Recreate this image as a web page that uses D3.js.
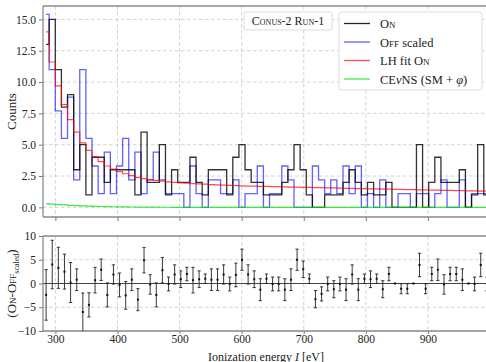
<!DOCTYPE html>
<html lang="en">
  <head>
    <meta charset="utf-8">
    <title>CONUS-2 Run-1 spectrum</title>
    <script src="https://d3js.org/d3.v7.js"></script>
    <style>
      body { margin: 0; background: #fff; }
      text { font-family: "Liberation Serif", "DejaVu Serif", serif; fill: #222; }
    </style>
  </head>

  <body>
    <script>
      // bins: first centre and width [eV]
      const binStart = 285;
      const binWidth = 9.86;
      // On counts per bin
      const onCounts = [13, 15, 11, 8, 9, 3, 5, 1, 4, 4, 2, 3, 3, 3, 3, 1, 6, 2, 2, 5,
        1, 3, 2, 2, 4, 2, 1, 3, 3, 3, 1, 4, 5,
        3, 2, 2, 1, 1, 1, 2, 3, 5, 3, 1, 0, 0, 1, 1, 1, 2, 3, 2, 1, 2, 1, 1, 2,
        0, 0, 0, 0, 5, 0, 2, 4, 2, 2, 2, 3, 0, 1, 5, 1];
      // Off counts (before scaling)
      const offCounts = [14, 10, 7, 5, 8, 2, 10, 5, 3, 1, 4, 1, 3, 5, 2, 4, 1, 2, 4, 2,
        1, 1, 1, 0, 3, 1, 0, 2, 2, 1, 1, 2, 0,
        1, 1, 3, 0, 1, 1, 3, 2, 0, 0, 0, 3, 2, 1, 2, 1, 3, 1, 3, 0, 1, 0, 2, 0,
        0, 1, 1, 0, 1, 1, 0, 1, 2, 0, 0, 2, 0, 1, 1, 1];
      const offScale = 1.1;
      // likelihood fit of On, per bin
      const fitOn = [14.0, 11.6, 9.7, 8.2, 7.0, 6.0, 5.15, 4.55, 4.05, 3.65, 3.3, 3.05,
        2.85, 2.68, 2.53, 2.4, 2.3, 2.22, 2.15, 2.09, 2.04, 2.0, 1.96, 1.93, 1.9,
        1.87, 1.85, 1.82, 1.8, 1.78, 1.76, 1.73, 1.71,
        1.70, 1.69, 1.68, 1.67, 1.66, 1.65, 1.64, 1.62, 1.61, 1.60, 1.59, 1.58,
        1.57, 1.56, 1.55, 1.54, 1.52, 1.51, 1.50, 1.49, 1.48, 1.47, 1.46, 1.45,
        1.44, 1.43, 1.42, 1.41, 1.40, 1.39, 1.38, 1.37, 1.36, 1.35, 1.34, 1.33,
        1.32, 1.31, 1.30, 1.29];
      // CEvNS expectation (SM + phi), per bin
      const cevns = [0.30, 0.26, 0.22, 0.19, 0.16, 0.14, 0.12, 0.10, 0.085, 0.07, 0.06,
        0.05, 0.04, 0.035, 0.03, 0.025, 0.02, 0.015, 0.012, 0.01, 0.008, 0.006, 0.005,
        0.004, 0.003, 0.002, 0.001, 0, 0, 0, 0, 0, 0, 0, 0, 0, 0, 0, 0, 0, 0, 0, 0, 0,
        0, 0, 0, 0, 0, 0, 0, 0, 0, 0, 0, 0, 0, 0, 0, 0, 0, 0, 0, 0, 0, 0, 0, 0, 0, 0, 0, 0, 0];
      const xTicks = [300, 400, 500, 600, 700, 800, 900];
      const countTicks = [0, 2.5, 5, 7.5, 10, 12.5, 15];
      const residTicks = [-10, -5, 0, 5, 10];

      const centers = onCounts.map((d, i) => binStart + i * binWidth);

      const w = 486;
      const h = 362;
      const left = 43;
      const right = 490;
      const top1 = 6, bottom1 = 217;
      const top2 = 236, bottom2 = 331;

      const offScaled = offCounts.map(d => d * offScale);
      const resid = centers.map((c, i) => ({
        x: c,
        y: onCounts[i] - offScaled[i],
        e: Math.sqrt(onCounts[i] + offScaled[i])
      }));

      const svg = d3.select("body")
        .append("svg")
        .attr("width", w)
        .attr("height", h);

      const x = d3.scaleLinear().domain([280, 1000]).range([left, right]);
      const y1 = d3.scaleLinear().domain([-0.77, 16.07]).range([bottom1, top1]);
      const y2 = d3.scaleLinear().domain([-10, 10]).range([bottom2, top2]);

      svg.append("clipPath").attr("id", "clip1")
        .append("rect").attr("x", left).attr("y", top1)
        .attr("width", right - left).attr("height", bottom1 - top1);
      svg.append("clipPath").attr("id", "clip2")
        .append("rect").attr("x", left).attr("y", top2)
        .attr("width", right - left).attr("height", bottom2 - top2);

      // grids
      function grid(yScale, yTicks, y0, y1px) {
        const g = svg.append("g").attr("stroke", "#c8c8c8")
          .attr("stroke-width", 0.8).attr("stroke-dasharray", "3.5,2.5");
        g.selectAll(".gx").data(xTicks).enter().append("line")
          .attr("x1", d => x(d)).attr("x2", d => x(d))
          .attr("y1", y0).attr("y2", y1px);
        g.selectAll(".gy").data(yTicks).enter().append("line")
          .attr("x1", left).attr("x2", right)
          .attr("y1", d => yScale(d)).attr("y2", d => yScale(d));
      }
      grid(y1, countTicks, top1, bottom1);
      grid(y2, residTicks, top2, bottom2);

      // top panel: step histograms (step at mid-point between centres)
      const step = d3.line().curve(d3.curveStep);
      const plot = svg.append("g").attr("clip-path", "url(#clip1)").attr("fill", "none");

      plot.append("path")
        .attr("d", step(centers.map((c, i) => [x(c), y1(offScaled[i])])))
        .attr("stroke", "rgba(0,0,255,0.62)").attr("stroke-width", 1.3);
      plot.append("path")
        .attr("d", step(centers.map((c, i) => [x(c), y1(onCounts[i])])))
        .attr("stroke", "rgba(0,0,0,0.8)").attr("stroke-width", 1.3);
      plot.append("path")
        .attr("d", step(centers.map((c, i) => [x(c), y1(fitOn[i])])))
        .attr("stroke", "rgba(255,0,0,0.7)").attr("stroke-width", 1.2);
      plot.append("path")
        .attr("d", step(centers.map((c, i) => [x(c), y1(cevns[i])])))
        .attr("stroke", "rgba(0,230,0,0.75)").attr("stroke-width", 1.2);

      // bottom panel: residuals
      const rp = svg.append("g").attr("clip-path", "url(#clip2)");
      rp.append("line")
        .attr("x1", left).attr("x2", right)
        .attr("y1", y2(0)).attr("y2", y2(0))
        .attr("stroke", "#444").attr("stroke-width", 1);
      const eb = rp.selectAll(".eb").data(resid).enter().append("g")
        .attr("stroke", "#222").attr("stroke-width", 0.9);
      eb.append("line")
        .attr("x1", d => x(d.x)).attr("x2", d => x(d.x))
        .attr("y1", d => y2(d.y - d.e)).attr("y2", d => y2(d.y + d.e));
      eb.append("line")
        .attr("x1", d => x(d.x) - 1.6).attr("x2", d => x(d.x) + 1.6)
        .attr("y1", d => y2(d.y - d.e)).attr("y2", d => y2(d.y - d.e));
      eb.append("line")
        .attr("x1", d => x(d.x) - 1.6).attr("x2", d => x(d.x) + 1.6)
        .attr("y1", d => y2(d.y + d.e)).attr("y2", d => y2(d.y + d.e));
      rp.selectAll(".pt").data(resid).enter().append("rect")
        .attr("x", d => x(d.x) - 1).attr("y", d => y2(d.y) - 1)
        .attr("width", 2).attr("height", 2).attr("fill", "#111");

      // axes
      const fmt1 = d3.format(".1f");
      const fmtR = d => d < 0 ? "\u2212" + Math.abs(d) : String(d);

      function styleAxis(g) {
        g.selectAll(".domain").remove();
        g.selectAll(".tick line").attr("stroke", "#777");
        g.selectAll(".tick text")
          .attr("font-family", "Liberation Serif, DejaVu Serif, serif")
          .attr("font-size", 11.5).attr("fill", "#333");
      }

      svg.append("g")
        .attr("transform", `translate(${left}, 0)`)
        .call(d3.axisLeft(y1).tickValues(countTicks).tickFormat(fmt1).tickSize(4).tickPadding(3))
        .call(styleAxis);
      svg.append("g")
        .attr("transform", `translate(${left}, 0)`)
        .call(d3.axisLeft(y2).tickValues(residTicks).tickFormat(fmtR).tickSize(4).tickPadding(3))
        .call(styleAxis);
      svg.append("g")
        .attr("transform", `translate(0, ${bottom1})`)
        .call(d3.axisBottom(x).tickValues(xTicks).tickFormat("").tickSize(4))
        .call(styleAxis);
      svg.append("g")
        .attr("transform", `translate(0, ${bottom2})`)
        .call(d3.axisBottom(x).tickValues(xTicks).tickFormat(d3.format("d")).tickSize(3).tickPadding(1))
        .call(styleAxis);

      // spines
      const spine = svg.append("g").attr("stroke", "#8a8a8a").attr("stroke-width", 1.3);
      [[top1, bottom1], [top2, bottom2]].forEach(([t, b]) => {
        spine.append("line").attr("x1", left).attr("x2", w).attr("y1", t).attr("y2", t);
        spine.append("line").attr("x1", left).attr("x2", w).attr("y1", b).attr("y2", b);
        spine.append("line").attr("x1", left).attr("x2", left).attr("y1", t).attr("y2", b);
      });

      // axis labels
      svg.append("text")
        .attr("transform", `translate(16, ${(top1 + bottom1) / 2}) rotate(-90)`)
        .attr("text-anchor", "middle").attr("font-size", 13)
        .text("Counts");
      const rl = svg.append("text")
        .attr("transform", `translate(16, ${(top2 + bottom2) / 2}) rotate(-90)`)
        .attr("text-anchor", "middle").attr("font-size", 13);
      rl.append("tspan").text("(");
      rl.append("tspan").attr("font-variant", "small-caps").text("On-Off");
      rl.append("tspan").attr("font-size", 8).attr("dy", 3).text("scaled");
      rl.append("tspan").attr("dy", -3).text(")");

      const xl = svg.append("text")
        .attr("x", 266).attr("y", 360.5)
        .attr("text-anchor", "middle").attr("font-size", 12);
      xl.append("tspan").text("Ionization energy ");
      xl.append("tspan").attr("font-style", "italic").text("I");
      xl.append("tspan").text(" [eV]");

      // run label box
      svg.append("rect")
        .attr("x", 244).attr("y", 12).attr("width", 88).attr("height", 18)
        .attr("rx", 2).attr("fill", "#fff").attr("stroke", "#ddd");
      svg.append("text")
        .attr("x", 288).attr("y", 25).attr("text-anchor", "middle")
        .attr("font-size", 12).attr("font-variant", "small-caps")
        .text("Conus-2 Run-1");

      // legend
      const legendItems = [
        { label: [["On", "sc"]], color: "rgba(0,0,0,0.85)" },
        { label: [["Off", "sc"], [" scaled", ""]], color: "rgba(0,0,255,0.62)" },
        { label: [["LH fit ", ""], ["On", "sc"]], color: "rgba(255,0,0,0.7)" },
        { label: [["CE", ""], ["\u03BD", "it"], ["NS (SM + ", ""], ["\u03C6", "it"], [")", ""]], color: "rgba(0,230,0,0.75)" }
      ];
      const lg = svg.append("g");
      lg.append("rect")
        .attr("x", 339).attr("y", 12).attr("width", 143).attr("height", 78)
        .attr("rx", 3).attr("fill", "rgba(255,255,255,0.9)").attr("stroke", "#ddd");
      legendItems.forEach((d, i) => {
        const yy = 23.5 + i * 18.5;
        lg.append("line").attr("x1", 344).attr("x2", 370)
          .attr("y1", yy).attr("y2", yy)
          .attr("stroke", d.color).attr("stroke-width", 1.3);
        const t = lg.append("text").attr("x", 380).attr("y", yy + 4.5).attr("font-size", 12.5);
        d.label.forEach(([s, st]) => {
          const ts = t.append("tspan").text(s);
          if (st === "sc") ts.attr("font-variant", "small-caps");
          if (st === "it") ts.attr("font-style", "italic");
        });
      });
    </script>
  </body>
</html>
